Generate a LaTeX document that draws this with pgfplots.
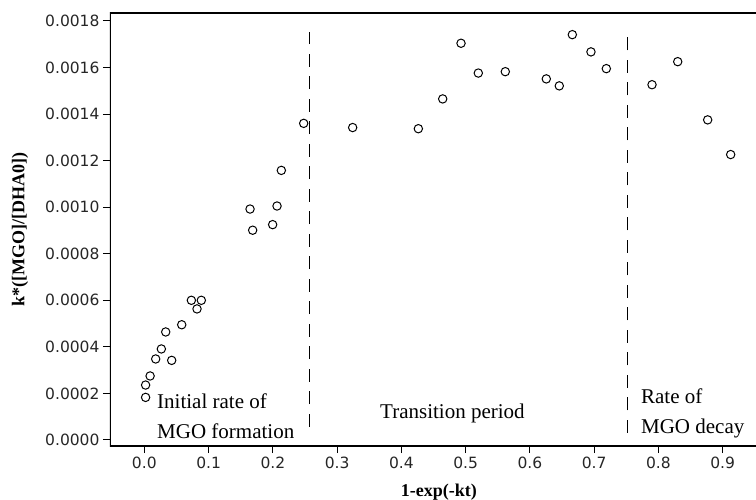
\documentclass[border=0pt]{standalone}
\usepackage{fontspec}
\setmainfont{Liberation Serif}
\newfontfamily\tickfont{DejaVu Sans}
\usepackage{pgfplots}
\pgfplotsset{compat=1.18}
\begin{document}
\begin{tikzpicture}
\begin{axis}[
  scale only axis, width=646bp, height=433bp,
  xmin=-0.0534, xmax=0.9518, ymin=-0.0000258, ymax=0.001834,
  axis line style={draw=none},
  xtick={0,0.1,0.2,0.3,0.4,0.5,0.6,0.7,0.8,0.9},
  ytick={0,0.0002,0.0004,0.0006,0.0008,0.0010,0.0012,0.0014,0.0016,0.0018},
  xtick pos=bottom, ytick pos=left, tick align=outside,
  major tick length=7bp,
  every tick/.style={black, line width=1bp},
  scaled x ticks=false, scaled y ticks=false,
  /pgf/number format/assume math mode=true,
  xticklabel style={/pgf/number format/fixed, /pgf/number format/fixed zerofill, /pgf/number format/precision=1},
  yticklabel style={/pgf/number format/fixed, /pgf/number format/fixed zerofill, /pgf/number format/precision=4},
  ticklabel style={font=\tickfont\fontsize{15.5bp}{18bp}\selectfont, text=black!85},
  xlabel={1-exp(-kt)},
  ylabel={k*([MGO]/[DHA0])},
  xlabel style={at={(axis description cs:0.509,-0.106)}, anchor=center, font=\bfseries\fontsize{18bp}{20bp}\selectfont},
  ylabel style={at={(axis description cs:-0.1393,0.5)}, anchor=center, font=\bfseries\fontsize{18bp}{20bp}\selectfont},
]
\draw[line width=1.2bp, line join=miter] (rel axis cs:1,0) -- (rel axis cs:0,0) -- (rel axis cs:0,1) -- (rel axis cs:1,1);
\coordinate (bl) at (rel axis cs:0,0);
\coordinate (tr) at (rel axis cs:1,1);
\addplot[black, line width=1bp, dash pattern=on 13bp off 9.5bp] coordinates {(0.2578,0.000057) (0.2578,0.001754)};
\addplot[black, line width=1bp, dash pattern=on 13bp off 9.5bp] coordinates {(0.7521,0.000031) (0.7521,0.001754)};
\addplot[only marks, mark=o, mark size=4.2bp, mark options={line width=1bp, black}] table {
x y
0.002 0.000183
0.002 0.000236
0.009 0.000275
0.0177 0.000348
0.0265 0.000391
0.0333 0.000464
0.0426 0.000342
0.0582 0.000495
0.0732 0.000600
0.0887 0.000600
0.082 0.000563
0.1645 0.000992
0.1686 0.000901
0.1997 0.000925
0.2065 0.001005
0.2132 0.001158
0.248 0.001360
0.3242 0.001342
0.4264 0.001337
0.4643 0.001465
0.4928 0.001704
0.5197 0.001576
0.5617 0.001582
0.6255 0.001551
0.6457 0.001521
0.6660 0.001741
0.6950 0.001667
0.7189 0.001595
0.790 0.001526
0.830 0.001625
0.8766 0.001375
0.9124 0.001226
};
\node[anchor=base west, inner sep=0pt, font=\fontsize{21bp}{25bp}\selectfont] at (axis cs:0.0198,0.000136) {Initial rate of};
\node[anchor=base west, inner sep=0pt, font=\fontsize{21bp}{25bp}\selectfont] at (axis cs:0.0198,0.0000073) {MGO formation};
\node[anchor=base west, inner sep=0pt, font=\fontsize{21bp}{25bp}\selectfont] at (axis cs:0.3667,0.0000902) {Transition period};
\node[anchor=base west, inner sep=0pt, font=\fontsize{21bp}{25bp}\selectfont] at (axis cs:0.7728,0.000158) {Rate of};
\node[anchor=base west, inner sep=0pt, font=\fontsize{21bp}{25bp}\selectfont] at (axis cs:0.7728,0.0000288) {MGO decay};
\end{axis}
\pgfresetboundingbox
\path[use as bounding box] ([shift={(-110bp,-54bp)}]bl) rectangle ([shift={(0bp,13bp)}]tr);
\end{tikzpicture}
\end{document}
